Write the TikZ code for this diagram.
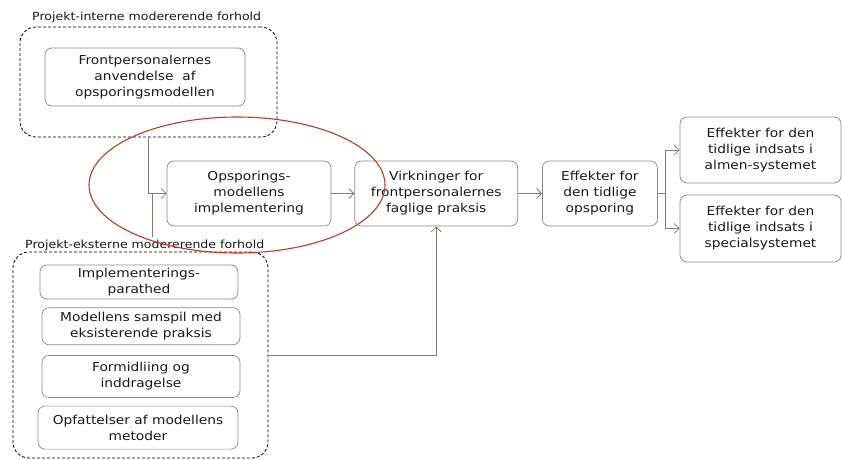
\documentclass[tikz,border=0pt]{standalone}
\usepackage{fontspec}
\setsansfont[FakeStretch=1.12]{DejaVu Sans}
\usetikzlibrary{arrows.meta,positioning}

\definecolor{linegray}{RGB}{128,128,112}
\definecolor{boxgray}{RGB}{135,135,135}
\definecolor{ringred}{RGB}{200,55,35}

\begin{document}
\begin{tikzpicture}[
  x=1pt, y=-1pt,
  font=\sffamily\fontsize{12.3}{16}\selectfont,
  every node/.style={align=center, text=black!90},
  box/.style={draw=boxgray, line width=0.7pt, rounded corners=7pt, inner sep=2pt},
  dashbox/.style={draw, dash pattern=on 3pt off 2pt, rounded corners=16pt, line width=0.8pt},
  grp/.style={font=\sffamily\fontsize{11.2}{13}\selectfont, inner sep=0pt, anchor=west},
  arr/.style={-{Straight Barb[length=5pt, width=10pt]}, draw=linegray, line width=0.8pt},
  conn/.style={draw=linegray, line width=0.8pt},
]
\useasboundingbox (0,0) rectangle (842,459);

% moderating groups
\node[dashbox, minimum width=257, minimum height=110] (intbox) at (148.5,82) {};
\node[grp] (intlbl) at (32,17) {Projekt-interne modererende forhold};
\node[box, minimum width=200, minimum height=58] (front) at (145,77) {Frontpersonalernes\\anvendelse\ \ af\\opsporingsmodellen};

\node[dashbox, minimum width=255, minimum height=206] (extbox) at (140.5,355) {};
\node[grp] (extlbl) at (25,245) {Projekt-eksterne modererende forhold};
\node[box, minimum width=198, minimum height=34] (impl) at (139,282) {Implementerings-\\parathed};
\node[box, minimum width=198, minimum height=37, below=8pt of impl.south, anchor=north, xshift=2pt] (samspil) {Modellens samspil med\\eksisterende praksis};
\node[box, minimum width=198, minimum height=42, below=10pt of samspil.south, anchor=north] (formid) {Formidliing og\\inddragelse};
\node[box, minimum width=200, minimum height=43, below=8pt of formid.south, anchor=north, xshift=-3pt] (opfat) {Opfattelser af modellens\\metoder};

% main chain
\node[box, minimum width=164, minimum height=65] (opsp) at (249,193.5) {Opsporings-\\modellens\\implementering};
\node[box, minimum width=163, minimum height=65, right=23pt of opsp] (virk) {Virkninger for\\frontpersonalernes\\faglige praksis};
\node[box, minimum width=115, minimum height=65, right=24pt of virk] (eff) {Effekter for\\den tidlige\\opsporing};
\node[box, minimum width=161, minimum height=66] (alm) at (760.5,150) {Effekter for den\\tidlige indsats i\\almen-systemet};
\node[box, minimum width=161, minimum height=67] (spec) at (760.5,228.5) {Effekter for den\\tidlige indsats i\\specialsystemet};

\coordinate (intout) at (148,137);
\coordinate (extout) at (152,237);
\coordinate (split) at (665,193.5);

\draw[arr] (intout) |- (opsp.west);
\draw[conn] (extout) -- (extout |- opsp.west);
\draw[arr] (opsp) -- (virk);
\draw[arr] (virk) -- (eff);
\draw[conn] (eff.east) -- (split);
\draw[arr] (split) |- (alm.west);
\draw[arr] (split) |- (spec.west);
\draw[arr] (extbox.east) -| (virk.south);

% highlight
\draw[ringred, line width=1.1pt] (237,185) ellipse [x radius=148pt, y radius=68pt];
\end{tikzpicture}
\end{document}
